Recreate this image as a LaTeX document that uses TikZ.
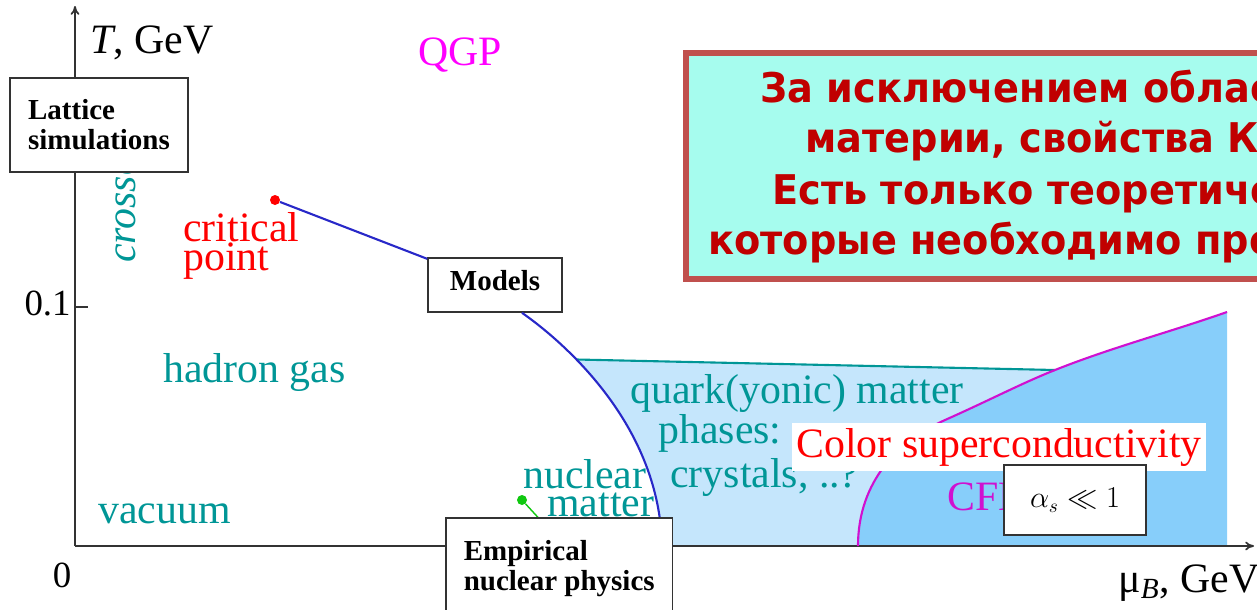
\documentclass[tikz,border=0pt]{standalone}
\usepackage{fontspec}
\setmainfont{Liberation Serif}
\newfontfamily\rufont[FakeStretch=0.935]{DejaVu Sans}
\usetikzlibrary{arrows.meta}
\definecolor{tealtxt}{HTML}{009696}
\definecolor{qgpmag}{HTML}{FF00FF}
\definecolor{cfline}{HTML}{D010D0}
\definecolor{pline}{HTML}{2828C8}
\definecolor{nmgreen}{HTML}{10C810}
\definecolor{lightq}{HTML}{C5E6FC}
\definecolor{darkq}{HTML}{87CEFA}
\definecolor{notefill}{HTML}{A6FCEE}
\definecolor{noteline}{HTML}{C0504D}
\definecolor{notetxt}{HTML}{C00000}
\definecolor{axgray}{HTML}{333333}
\tikzset{
  lab/.style={inner sep=0pt,anchor=base west,font=\fontsize{23.8}{16}\selectfont},
  bx/.style={draw=axgray,fill=white,line width=0.9pt,align=left,font=\bfseries\fontsize{16.5}{17}\selectfont},
  ax/.style={axgray,line width=1pt,-{To[length=5pt,width=5pt]}},
  rutxt/.style={inner sep=0pt,anchor=base west,text=notetxt,font=\rufont\bfseries\fontsize{23.3}{25}\selectfont},
  dot/.style={circle,fill=#1,inner sep=0pt,minimum size=0.2cm},
}

\begin{document}
\begin{tikzpicture}[x=0.02cm,y=-0.02cm]
\useasboundingbox (0,0) rectangle (1257,609);
% phase regions
\fill[lightq] (576.5,359.5) -- (1055,370) -- (1055,546) -- (662,546)
  .. controls (660.5,474) and (626.4,411) .. (576.5,359.5) -- cycle;
\fill[darkq] (858,546) .. controls (858,480) and (900,440) .. (945,420)
  .. controls (990,400) and (1020,384) .. (1055,370)
  .. controls (1110,348) and (1170,332) .. (1227,312) -- (1227,546) -- cycle;
% axes
\coordinate (o) at (75,546);
\draw[ax] (o) -- (75,6);
\draw[ax] (o) -- (1254,546);
\draw[axgray,line width=1pt] (75,307) -- (88,307);
\node[lab,anchor=base east,font=\fontsize{21}{16}\selectfont] (t01) at (71,315) {0.1};
\node[lab,anchor=base,font=\fontsize{21}{16}\selectfont] (t0) at (62,587) {0};
\node[lab] (tlab) at (90,53) {\textit{T}, GeV};
\node[lab] (mulab) at (1118,592) {μ\textsubscript{\textit{B}}, GeV};
% boundaries
\draw[tealtxt,line width=1.2pt] (576.5,359.5) -- (1055,370);
\draw[cfline,line width=1.2pt] (858,546) .. controls (858,480) and (900,440) .. (945,420)
  .. controls (990,400) and (1020,384) .. (1055,370)
  .. controls (1110,348) and (1170,332) .. (1227,312);
% labels
\node[lab,text=qgpmag] (qgp) at (418,65) {QGP};
\node[lab,text=tealtxt,rotate=90,font=\itshape\fontsize{23.8}{16}\selectfont] (cross) at (135,263) {crossover};
\node[lab,text=red,align=left] (cplab) at (183,270) {critical\\point};
\node[lab,text=tealtxt] (hg) at (163,382) {hadron gas};
\node[lab,text=tealtxt] (vac) at (98,523) {vacuum};
\node[lab,text=tealtxt] (qm1) at (630,403) {quark(yonic) matter};
\node[lab,text=tealtxt] (qm2) at (658,443) {phases:};
\node[lab,text=tealtxt] (qm3) at (670,487) {crystals, ..?};
\node[lab,text=tealtxt,align=left,font=\fontsize{23.8}{15.9}\selectfont] (nm) at (523,516) {nuclear\\\hspace*{0.48cm}matter};
\node[lab,text=cfline] (cfl) at (947,510) {CFL};
\node[dot=nmgreen] (nmdot) at (522,500) {};
\draw[nmgreen,line width=0.8pt] (nmdot) -- (545,525);
\node[lab,text=red,fill=white,inner xsep=0.08cm,inner ysep=0.1cm] (csc) at (792,457) {Color superconductivity};
% boxes
\node[bx,minimum width=3.56cm,minimum height=1.88cm] (lattice) at (99,125) {Lattice\\simulations};
\node[bx,minimum width=2.68cm,minimum height=1.08cm,text depth=0.2cm] (models) at (495,285) {Models};
\node[dot=red] (cp) at (275,200) {};
\draw[pline,line width=1.2pt] (cp) -- (models);
\draw[pline,line width=1.2pt] ([xshift=0.54cm]models.south) .. controls (541.5,326.5) and (559.9,342.4) .. (576.5,359.5)
  .. controls (626.4,411) and (660.5,474) .. (662,546);
\node[bx,anchor=north west,inner xsep=0.36cm,inner ysep=0.46cm] (empir) at (445,517) {Empirical\\nuclear physics};
\node[bx,minimum width=2.84cm,minimum height=1.4cm,font=\fontsize{16}{18}\selectfont] (alpha) at (1075,500) {$\alpha_s \ll 1$};
% note
\node[draw=noteline,fill=notefill,line width=3.4pt,minimum width=12cm,minimum height=4.52cm,anchor=north west,inner sep=0pt] (note) at (683,50) {};
\node[rutxt] (ru1) at (760,102) {За исключением облас};
\node[rutxt] (ru2) at (805,152) {материи, свойства К};
\node[rutxt] (ru3) at (772,204) {Есть только теоретиче};
\node[rutxt] (ru4) at (708,254) {которые необходимо про};
\end{tikzpicture}
\end{document}
